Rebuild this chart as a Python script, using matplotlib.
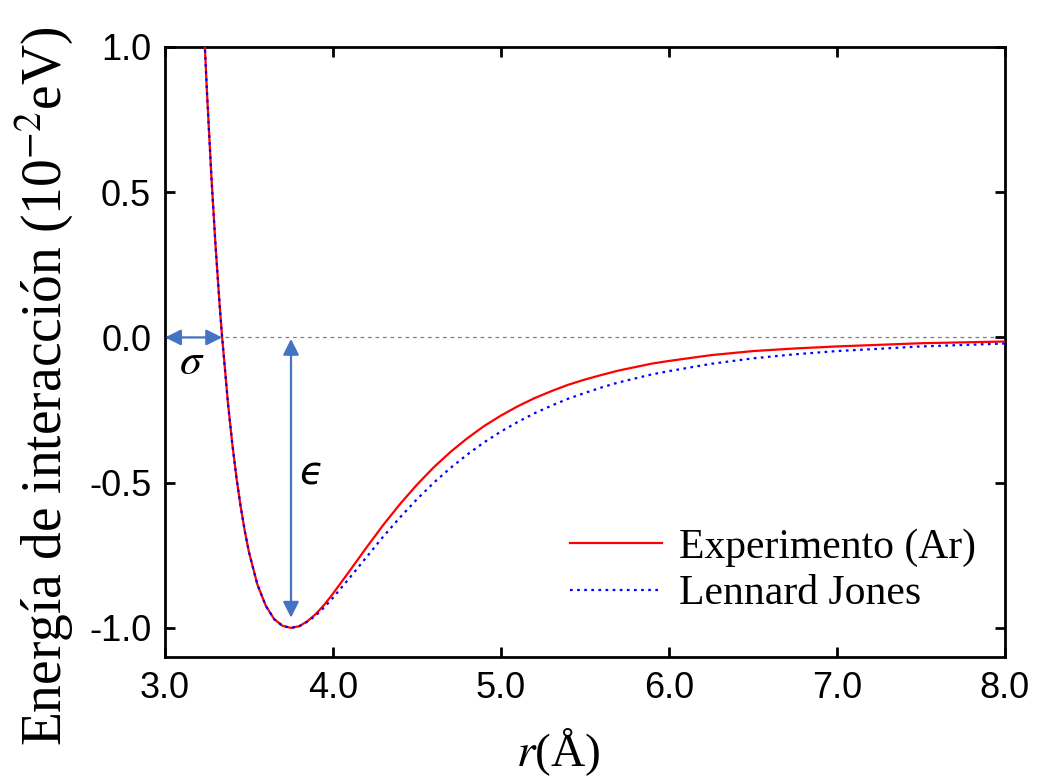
import matplotlib
matplotlib.use('Agg')
import matplotlib.pyplot as plt

plt.rcParams['font.family'] = ['Liberation Sans', 'DejaVu Sans']
plt.rcParams['mathtext.fontset'] = 'stix'
plt.rcParams['axes.unicode_minus'] = False

# r in angstrom, energy in 1e-2 eV
r_lj = [3.23, 3.25, 3.275, 3.30, 3.325, 3.34, 3.375, 3.40, 3.425, 3.45, 3.475, 3.50,
        3.55, 3.60, 3.65, 3.70, 3.75, 3.80, 3.85, 3.90, 3.95, 4.00, 4.10, 4.20,
        4.30, 4.40, 4.50, 4.60, 4.70, 4.80, 4.90, 5.00, 5.10, 5.20, 5.30, 5.40,
        5.50, 5.60, 5.70, 5.80, 5.90, 6.00, 6.25, 6.50, 6.75, 7.00, 7.50, 8.00]
e_lj = [1.088, 0.840, 0.564, 0.322, 0.112, 0.0, -0.228, -0.364, -0.482, -0.582,
        -0.667, -0.740, -0.851, -0.924, -0.970, -0.993, -1.000, -0.994, -0.978,
        -0.956, -0.928, -0.896, -0.827, -0.756, -0.685, -0.619, -0.557, -0.500,
        -0.449, -0.403, -0.361, -0.324, -0.291, -0.261, -0.235, -0.211, -0.191,
        -0.172, -0.155, -0.141, -0.127, -0.116, -0.091, -0.072, -0.058, -0.047,
        -0.031, -0.021]

r_exp = r_lj
e_exp = [1.088, 0.840, 0.564, 0.322, 0.112, 0.0, -0.228, -0.364, -0.482, -0.582,
         -0.667, -0.740, -0.851, -0.924, -0.970, -0.993, -1.000, -0.994, -0.976,
         -0.951, -0.919, -0.882, -0.803, -0.723, -0.645, -0.573, -0.507, -0.447,
         -0.394, -0.347, -0.305, -0.269, -0.237, -0.209, -0.185, -0.163, -0.145,
         -0.129, -0.114, -0.102, -0.090, -0.081, -0.061, -0.047, -0.038, -0.031,
         -0.020, -0.014]

xticks = [3.0, 4.0, 5.0, 6.0, 7.0, 8.0]
yticks = [-1.0, -0.5, 0.0, 0.5, 1.0]

sigma_r = 3.34
well_r = 3.75
blue = '#4472C4'

fig = plt.figure(figsize=(10.38, 7.83), dpi=100)
ax = fig.add_axes([0.159, 0.161, 0.809, 0.779])

ax.axhline(0, color='#808080', lw=0.9, dashes=(3, 3), zorder=1)
ax.plot(r_exp, e_exp, color='#FF0000', lw=1.6, label='Experimento (Ar)', zorder=3)
ax.plot(r_lj, e_lj, color='#0000FF', lw=1.6, ls=(0, (1.2, 2.0)),
        label='Lennard Jones', zorder=4)

arrow = dict(arrowstyle='<|-|>', color=blue, lw=1.6, mutation_scale=24,
             shrinkA=0, shrinkB=0)
ax.annotate('', xy=(3.0, 0), xytext=(sigma_r, 0), arrowprops=arrow, zorder=5)
ax.annotate('', xy=(well_r, -0.005), xytext=(well_r, -0.965), arrowprops=arrow, zorder=5)
ax.text(3.16, -0.085, r'$\sigma$', fontsize=32, ha='center', va='center')
ax.text(3.875, -0.47, 'ϵ', fontsize=28, style='italic', family='DejaVu Sans',
        ha='center', va='center')

ax.set_xlim(3.0, 8.0)
ax.set_ylim(-1.1, 1.0)
ax.set_xticks(xticks)
ax.set_xticklabels(['%.1f' % v for v in xticks])
ax.set_yticks(yticks)
ax.set_yticklabels(['%.1f' % v for v in yticks])
ax.tick_params(direction='in', length=7, width=2, top=True, right=True,
               labelsize=26, pad=10)
for s in ax.spines.values():
    s.set_linewidth(2)

leg = ax.legend(loc='lower right', bbox_to_anchor=(1.01, 0.01), frameon=False,
                prop={'family': 'Liberation Serif', 'size': 30},
                handlelength=2.2, handletextpad=0.4, labelspacing=0.2)

fig.text(0.0424, 0.506, 'Energía de interacción (10$^{-2}$eV)', rotation=90,
         ha='center', va='center', fontsize=40, family='Liberation Serif')
fig.text(0.538, 0.006, r'$r$(Å)', ha='center', va='bottom', fontsize=34,
         family='Liberation Serif')

fig.savefig('out.png', dpi=100)
